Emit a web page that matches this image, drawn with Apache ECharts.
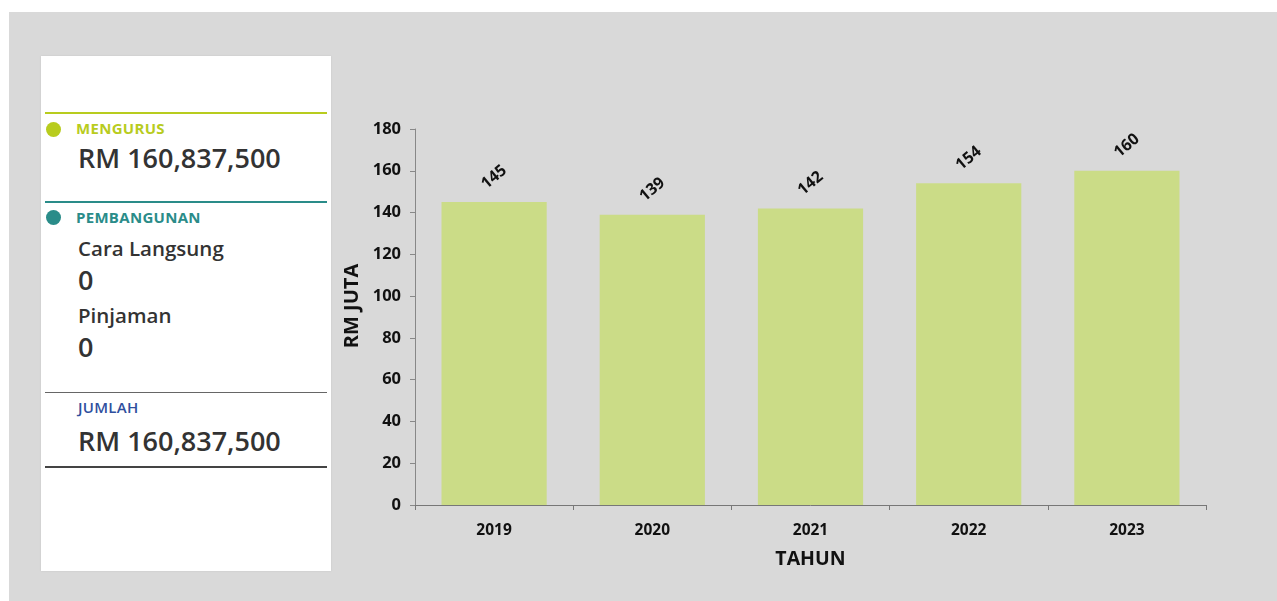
<!DOCTYPE html>
<html>
<head>
<meta charset="utf-8">
<script src="https://cdn.jsdelivr.net/npm/echarts@6/dist/echarts.min.js"></script>
<style>
  html, body { margin: 0; padding: 0; width: 1277px; height: 601px; background: #ffffff; overflow: hidden; font-family: "Open Sans", "Noto Sans", sans-serif; }
  #bg { position: absolute; left: 9px; top: 12px; width: 1268px; height: 589px; background: #d9d9d9; }
  #chart { position: absolute; left: 0; top: 0; width: 1277px; height: 601px; }
  #panel { position: absolute; left: 41px; top: 56px; width: 290px; height: 515px; background: #ffffff; box-shadow: 0 0 2px rgba(0,0,0,0.08); }
  .line { position: absolute; left: 4px; width: 282px; }
  .dot { position: absolute; width: 15px; height: 15px; border-radius: 50%; }
  .t { position: absolute; white-space: nowrap; line-height: 1; }
  .cap { font-size: 15px; font-weight: 700; letter-spacing: 0.3px; }
  .big { font-size: 27px; font-weight: 600; color: #333333; }
  .mid { font-size: 20.5px; font-weight: 600; color: #333333; }
</style>
</head>
<body>
<div id="bg"></div>
<div id="panel">
  <div class="line" style="top:56px;height:2px;background:#b8cc1e;"></div>
  <div class="dot" style="left:5px;top:66px;background:#b8cc1e;"></div>
  <div class="t cap" style="left:35px;top:65px;color:#b8cc1e;">MENGURUS</div>
  <div class="t big" style="left:37px;top:88px;">RM 160,837,500</div>

  <div class="line" style="top:145px;height:2px;background:#2a8c89;"></div>
  <div class="dot" style="left:5px;top:154px;background:#2a8c89;"></div>
  <div class="t cap" style="left:35px;top:154px;color:#2a8c89;">PEMBANGUNAN</div>
  <div class="t mid" style="left:37px;top:182px;">Cara Langsung</div>
  <div class="t big" style="left:37px;top:210px;">0</div>
  <div class="t mid" style="left:37px;top:249px;">Pinjaman</div>
  <div class="t big" style="left:37px;top:277px;">0</div>

  <div class="line" style="top:336px;height:1px;background:#666666;"></div>
  <div class="t cap" style="left:37px;top:344px;color:#2f4f9e;font-weight:600;">JUMLAH</div>
  <div class="t big" style="left:37px;top:371px;">RM 160,837,500</div>
  <div class="line" style="top:410px;height:2px;background:#444444;"></div>
</div>
<div id="chart"></div>
<script>
const categories = ['2019', '2020', '2021', '2022', '2023'];
const values = [145, 139, 142, 154, 160];
const yTicks = { min: 0, max: 180, interval: 20 };

const chart = echarts.init(document.getElementById('chart'), null, { renderer: 'canvas' });
chart.setOption({
  backgroundColor: 'transparent',
  animation: false,
  textStyle: { fontFamily: 'Open Sans' },
  grid: { left: 415, right: 71, top: 129, bottom: 96 },
  xAxis: {
    type: 'category',
    data: categories,
    name: 'TAHUN',
    nameLocation: 'middle',
    nameGap: 44,
    nameTextStyle: { fontSize: 19.5, fontWeight: 'bold', color: '#111', fontFamily: 'Open Sans' },
    axisLine: { lineStyle: { color: '#777', width: 1 } },
    axisTick: { show: true, length: 5, lineStyle: { color: '#777' } },
    axisLabel: { fontSize: 15.5, fontWeight: 'bold', color: '#111', margin: 18, fontFamily: 'Open Sans' }
  },
  yAxis: {
    type: 'value',
    min: yTicks.min, max: yTicks.max, interval: yTicks.interval,
    name: 'RM JUTA',
    nameLocation: 'middle',
    nameGap: 52,
    nameRotate: 90,
    nameTextStyle: { fontSize: 20, fontWeight: 'bold', color: '#111', fontFamily: 'Open Sans', padding: [0, 0, 0, 22] },
    axisLine: { show: true, lineStyle: { color: '#888', width: 1 } },
    axisTick: { show: true, length: 5, lineStyle: { color: '#888' } },
    splitLine: { show: false },
    axisLabel: { fontSize: 16.5, fontWeight: 'bold', color: '#111', margin: 14, fontFamily: 'Open Sans' }
  },
  series: [{
    type: 'bar',
    data: values,
    barCategoryGap: '33.5%',
    itemStyle: { color: '#cbdc87' },
    label: {
      show: true,
      position: 'top',
      distance: 25,
      rotate: 40,
      align: 'center',
      verticalAlign: 'middle',
      fontSize: 16,
      fontWeight: 'bold',
      color: '#111',
      fontFamily: 'Open Sans'
    }
  }]
});
</script>
</body>
</html>
